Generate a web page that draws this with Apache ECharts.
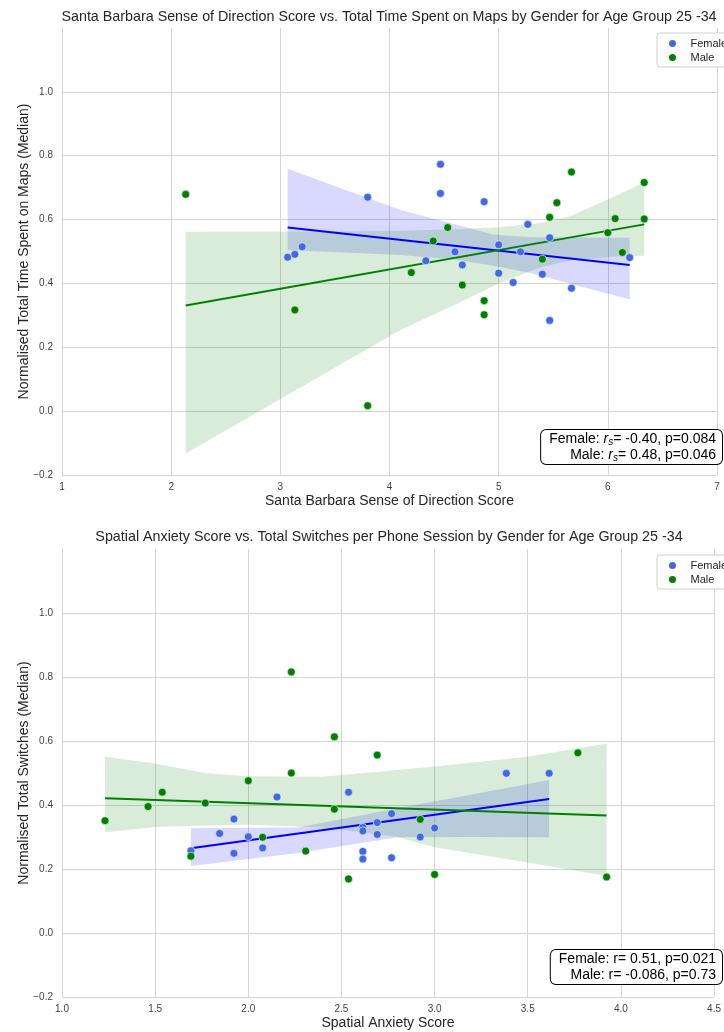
<!DOCTYPE html>
<html>
<head>
<meta charset="utf-8">
<script src="https://cdn.jsdelivr.net/npm/echarts@6/dist/echarts.min.js"></script>
<style>
  html, body { margin: 0; padding: 0; background: #fff; }
  #chart { width: 724px; height: 1032px; }
</style>
</head>
<body>
<div id="chart"></div>
<script>
// --- top chart: SBSOD score vs time on maps ---
var sbsodF = [3.8, 3.2, 3.133, 3.067, 4.467, 4.467, 4.867, 5.267, 5.467, 5.0, 5.2, 4.6, 4.333, 4.667, 5.0, 5.4, 5.133, 5.667, 5.467, 6.2];
var timeF  = [0.670, 0.515, 0.491, 0.482, 0.773, 0.682, 0.656, 0.585, 0.543, 0.521, 0.499, 0.499, 0.471, 0.458, 0.432, 0.429, 0.403, 0.385, 0.284, 0.481];
var sbsodM = [2.133, 3.133, 3.8, 5.667, 6.333, 5.533, 5.467, 6.067, 6.333, 4.533, 6.0, 4.4, 5.4, 4.2, 4.667, 4.867, 4.867, 6.133];
var timeM  = [0.679, 0.317, 0.017, 0.749, 0.716, 0.653, 0.607, 0.603, 0.602, 0.575, 0.559, 0.533, 0.476, 0.434, 0.395, 0.346, 0.302, 0.497];

// regression lines (end points) and CI bands
var fitTopF = [[3.067, 0.575], [6.2, 0.458]];
var fitTopM = [[2.133, 0.331], [6.333, 0.585]];
var bandTopFx  = [3.067, 4.1, 4.6, 4.95, 5.3, 6.2];
var bandTopFhi = [0.759, 0.630, 0.585, 0.553, 0.545, 0.543];
var bandTopFlo = [0.505, 0.489, 0.475, 0.455, 0.432, 0.350];
var bandTopMx  = [2.133, 3.3, 4.1, 4.6, 5.0, 5.4, 5.66, 6.06, 6.333];
var bandTopMhi = [0.562, 0.563, 0.565, 0.570, 0.576, 0.590, 0.611, 0.672, 0.716];
var bandTopMlo = [-0.133, 0.097, 0.254, 0.333, 0.400, 0.452, 0.472, 0.484, 0.487];

// --- bottom chart: spatial anxiety vs switches ---
var anxF = [2.154, 2.538, 1.923, 2.769, 2.692, 2.615, 2.615, 1.846, 2.0, 2.692, 2.077, 1.692, 1.923, 2.615, 2.615, 2.769, 3.385, 3.615, 3.0, 2.923];
var swF  = [0.425, 0.440, 0.356, 0.373, 0.345, 0.330, 0.319, 0.311, 0.301, 0.308, 0.266, 0.257, 0.249, 0.255, 0.231, 0.235, 0.499, 0.499, 0.328, 0.300];
var anxM = [2.231, 2.462, 2.692, 2.231, 2.0, 1.538, 1.462, 1.231, 1.769, 2.462, 2.077, 1.692, 2.308, 2.538, 3.769, 2.923, 3.0, 3.923];
var swM  = [0.816, 0.613, 0.556, 0.500, 0.476, 0.440, 0.395, 0.351, 0.406, 0.387, 0.299, 0.240, 0.256, 0.169, 0.563, 0.355, 0.183, 0.175];

var fitBotF = [[1.692, 0.265], [3.615, 0.419]];
var fitBotM = [[1.231, 0.421], [3.923, 0.367]];
var bandBotFx  = [1.692, 2.27, 2.8, 3.2, 3.615];
var bandBotFhi = [0.327, 0.330, 0.390, 0.433, 0.478];
var bandBotFlo = [0.209, 0.250, 0.299, 0.300, 0.299];
var bandBotMx  = [1.231, 1.5, 1.77, 2.0, 2.4, 2.8, 3.0, 3.5, 3.923];
var bandBotMhi = [0.551, 0.530, 0.499, 0.490, 0.488, 0.509, 0.520, 0.551, 0.592];
var bandBotMlo = [0.315, 0.331, 0.336, 0.338, 0.330, 0.300, 0.268, 0.220, 0.178];

var titles = [
  'Santa Barbara Sense of Direction Score vs. Total Time Spent on Maps by Gender for Age Group 25 -34',
  'Spatial Anxiety Score vs. Total Switches per Phone Session by Gender for Age Group 25 -34'
];
var xNames = ['Santa Barbara Sense of Direction Score', 'Spatial Anxiety Score'];
var yNames = ['Normalised Total Time Spent on Maps (Median)', 'Normalised Total Switches (Median)'];
// every piece wrapped in a rich token so each line can be right aligned
var statsTop = ['{t|Female: }{i|r}{s|s}{t|= -0.40, p=0.084}', '{t|Male: }{i|r}{s|s}{t|= 0.48, p=0.046}'];
var statsBot = ['{t|Female: r= 0.51, p=0.021}', '{t|Male: r= -0.086, p=0.73}'];

var FONT = '"Liberation Sans", Arial, sans-serif';
var BLUE = '#4169e1', GREEN = '#008000';
var GRID_C = '#d5d5d5';

function pairs(xs, ys) {
  return xs.map(function (x, i) { return [x, ys[i]]; });
}
function minus(v, d) {
  return v.toFixed(d).replace('-', '\u2212');
}

// CI band drawn as one polygon through the axis scales
function band(xs, lo, hi, fill, idx) {
  return {
    type: 'custom', xAxisIndex: idx, yAxisIndex: idx, silent: true, z: 1,
    data: xs.map(function (x, i) { return [x, lo[i], hi[i]]; }),
    encode: { x: 0, y: [1, 2] },
    renderItem: function (params, api) {
      if (params.dataIndex !== 0) return null;
      var pts = [];
      for (var i = 0; i < xs.length; i++) pts.push(api.coord([xs[i], hi[i]]));
      for (var j = xs.length - 1; j >= 0; j--) pts.push(api.coord([xs[j], lo[j]]));
      return { type: 'polygon', shape: { points: pts }, style: { fill: fill } };
    }
  };
}
function fit(data, color, idx) {
  return {
    type: 'line', xAxisIndex: idx, yAxisIndex: idx, data: data, showSymbol: false,
    silent: true, z: 2, lineStyle: { color: color, width: 2 }
  };
}
function dots(name, data, color, idx) {
  return {
    type: 'scatter', name: name, xAxisIndex: idx, yAxisIndex: idx, data: data,
    symbolSize: 8, z: 3,
    itemStyle: { color: color, borderColor: '#fff', borderWidth: 0.6, opacity: 1 }
  };
}

var xBase = {
  type: 'value', nameLocation: 'middle', nameGap: 19, nameMoveOverlap: false,
  nameTextStyle: { fontSize: 14, color: '#262626', fontFamily: FONT },
  axisLine: { show: false }, axisTick: { show: false },
  axisLabel: { fontSize: 10, color: '#444', margin: 7, fontFamily: FONT },
  splitLine: { lineStyle: { color: GRID_C, width: 1 } }
};
var yBase = {
  type: 'value', min: -0.2, max: 1.2, interval: 0.2,
  nameLocation: 'middle', nameGap: 31, nameMoveOverlap: false,
  nameTextStyle: { fontSize: 14, color: '#262626', fontFamily: FONT },
  axisLine: { show: false }, axisTick: { show: false },
  axisLabel: { fontSize: 10, color: '#444', margin: 9, fontFamily: FONT, showMaxLabel: false,
    formatter: function (v) { return minus(v, 1); } },
  splitLine: { showMaxLine: false,
    lineStyle: { color: [GRID_C, GRID_C, GRID_C, GRID_C, GRID_C, GRID_C, GRID_C, 'rgba(0,0,0,0)'], width: 1 } }
};

function legendAt(top) {
  return {
    data: ['Female', 'Male'], orient: 'vertical', left: 657, top: top,
    icon: 'circle', itemWidth: 26, itemHeight: 9, itemGap: 1,
    padding: [4, 6, 3, 10], borderColor: '#d0d0d0', borderWidth: 1, borderRadius: 3,
    backgroundColor: '#fff',
    textStyle: { fontSize: 11, color: '#262626', fontFamily: FONT, lineHeight: 13 }
  };
}
function statBox(lines, top) {
  var tok = { fontSize: 14, fontFamily: FONT, align: 'right', fill: '#000' };
  return {
    type: 'text', right: 1, top: top, z: 100,
    style: {
      text: lines.join('\n'), align: 'right', fontSize: 14, lineHeight: 16,
      fontFamily: FONT, fill: '#000', backgroundColor: '#fff',
      borderColor: '#000', borderWidth: 1, borderRadius: 5, padding: [1, 6, 1, 8],
      rich: {
        t: tok,
        i: Object.assign({}, tok, { fontStyle: 'italic' }),
        s: Object.assign({}, tok, { fontStyle: 'italic', fontSize: 10, verticalAlign: 'bottom', lineHeight: 10 })
      }
    }
  };
}

var chart = echarts.init(document.getElementById('chart'), null, { renderer: 'canvas' });
chart.setOption({
  animation: false,
  backgroundColor: '#fff',
  textStyle: { fontFamily: FONT },
  title: [
    { text: titles[0], left: 389, top: 10, textAlign: 'center', padding: 0,
      textStyle: { fontSize: 14.3, fontWeight: 'normal', color: '#262626', fontFamily: FONT } },
    { text: titles[1], left: 389, top: 530, textAlign: 'center', padding: 0,
      textStyle: { fontSize: 14.3, fontWeight: 'normal', color: '#262626', fontFamily: FONT } }
  ],
  legend: [legendAt(33), legendAt(555)],
  grid: [
    { left: 62, top: 28, width: 655, height: 447 },
    { left: 62, top: 549, width: 655, height: 448 }
  ],
  xAxis: [
    Object.assign({}, xBase, { gridIndex: 0, min: 1, max: 7, interval: 1, name: xNames[0] }),
    Object.assign({}, xBase, { gridIndex: 1, min: 1, max: 4.5, interval: 0.5, name: xNames[1],
      axisLabel: Object.assign({}, xBase.axisLabel, { formatter: function (v) { return v.toFixed(1); } }) })
  ],
  yAxis: [
    Object.assign({}, yBase, { gridIndex: 0, name: yNames[0] }),
    Object.assign({}, yBase, { gridIndex: 1, name: yNames[1] })
  ],
  graphic: [statBox(statsTop, 429), statBox(statsBot, 949)],
  series: [
    band(bandTopFx, bandTopFlo, bandTopFhi, 'rgba(0,0,255,0.15)', 0),
    band(bandTopMx, bandTopMlo, bandTopMhi, 'rgba(0,128,0,0.15)', 0),
    fit(fitTopF, '#0000ff', 0),
    fit(fitTopM, GREEN, 0),
    dots('Female', pairs(sbsodF, timeF), BLUE, 0),
    dots('Male', pairs(sbsodM, timeM), GREEN, 0),

    band(bandBotFx, bandBotFlo, bandBotFhi, 'rgba(0,0,255,0.15)', 1),
    band(bandBotMx, bandBotMlo, bandBotMhi, 'rgba(0,128,0,0.15)', 1),
    fit(fitBotF, '#0000ff', 1),
    fit(fitBotM, GREEN, 1),
    dots('Female', pairs(anxF, swF), BLUE, 1),
    dots('Male', pairs(anxM, swM), GREEN, 1)
  ]
});
</script>
</body>
</html>
